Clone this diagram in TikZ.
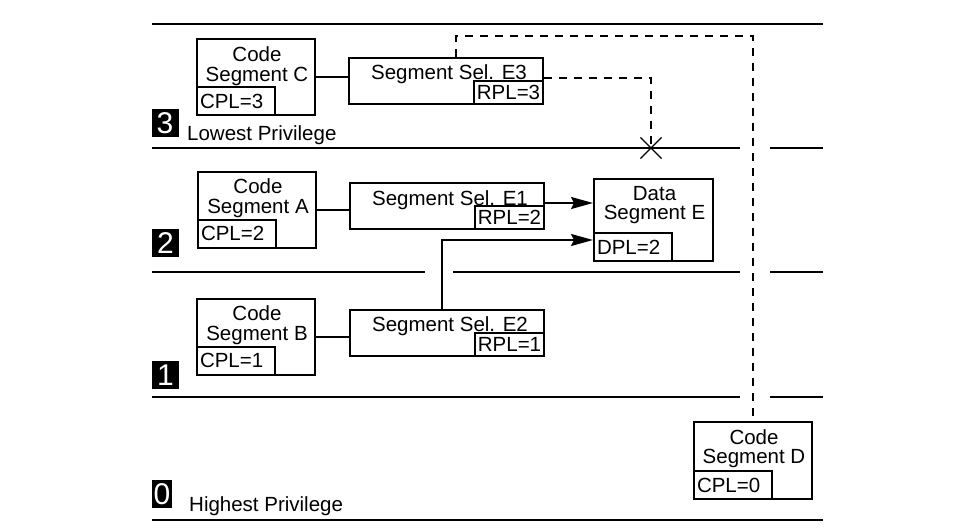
\documentclass[tikz,border=0pt]{standalone}
\usepackage{fontspec}
\setmainfont{Liberation Sans}
\usetikzlibrary{arrows.meta,calc,shapes.misc}

\begin{document}
\begin{tikzpicture}[x=1pt,y=1pt,yscale=-1,xscale=1,
	font=\fontsize{20.5}{19.5}\selectfont,
	seg/.style={draw,line width=2pt,inner sep=0pt},
	codebox/.style={seg,minimum width=118pt,minimum height=76pt},
	selbox/.style={seg,minimum width=194pt,minimum height=46pt},
	plbox/.style={seg,anchor=south west,text width=72pt,inner xsep=3pt,align=left,minimum height=28pt},
	rplbox/.style={seg,anchor=south east,minimum width=69pt,minimum height=23pt},
	lbl/.style={inner sep=0pt,align=center},
	lvl/.style={fill=black,text=white,inner sep=0pt,minimum height=28pt,font=\fontsize{30}{30}\selectfont},
	ring/.style={line width=2.2pt},
	link/.style={line width=2pt},
	arr/.style={link,-{Stealth[length=22pt,width=12pt,inset=3pt]}},
	dashlink/.style={link,dash pattern=on 8pt off 7pt},
	nogo/.style={draw,cross out,line width=1.2pt,minimum size=20pt,inner sep=0pt}]
	%set diagram left start at 0, and has height of 532
	\path[fill=white] (0,0) rectangle (979,532);
	\useasboundingbox (0,0) rectangle (979,532);
	
	%Straight Lines
	\draw[line width=1.2pt] (152,24) -- (823,24) ;
	%Straight Lines
	\draw[ring] (152,148) -- (740,148) (770,148) -- (823,148) ;
	%Straight Lines
	\draw[ring] (152,272) -- (425,272) (453,272) -- (740,272) (770,272) -- (823,272) ;
	%Straight Lines
	\draw[ring] (152,397) -- (740,397) (770,397) -- (823,397) ;
	%Straight Lines
	\draw[ring] (152,520) -- (823,520) ;
	
	% Code Segment C
	\node[codebox] (codeC) at (256,77.5) {};
	\node[lbl,anchor=north] (codeCtxt) at ($(codeC.north)+(1,8)$) {Code\\Segment C};
	\node[plbox] (cplC) at (codeC.south west) {CPL=3};
	% Code Segment A
	\node[codebox] (codeA) at (257,209.5) {};
	\node[lbl,anchor=north] (codeAtxt) at ($(codeA.north)+(1,8)$) {Code\\Segment A};
	\node[plbox] (cplA) at (codeA.south west) {CPL=2};
	% Code Segment B
	\node[codebox] (codeB) at (256,336.5) {};
	\node[lbl,anchor=north] (codeBtxt) at ($(codeB.north)+(1,8)$) {Code\\Segment B};
	\node[plbox] (cplB) at (codeB.south west) {CPL=1};
	% Code Segment D
	\node[codebox,minimum height=77pt] (codeD) at (753,460.5) {};
	\node[lbl,anchor=north] (codeDtxt) at ($(codeD.north)+(1,8)$) {Code\\Segment D};
	\node[plbox] (cplD) at (codeD.south west) {CPL=0};
	% Data Segment E
	\node[codebox,minimum width=119pt,minimum height=82pt] (dataE) at (653.5,220) {};
	\node[lbl,anchor=north] (dataEtxt) at ($(dataE.north)+(1,8)$) {Data\\Segment E};
	\node[plbox] (dplE) at (dataE.south west) {DPL=2};
	
	% Segment Selectors
	\node[selbox] (selE3) at (446,81) {};
	\node[lbl,anchor=base] (selE3txt) at ($(selE3.north)+(3,23)$) {Segment Sel. E3};
	\node[rplbox] (rplE3) at (selE3.south east) {RPL=3};
	\node[selbox] (selE1) at (447,206) {};
	\node[lbl,anchor=base] (selE1txt) at ($(selE1.north)+(3,23)$) {Segment Sel. E1};
	\node[rplbox] (rplE1) at (selE1.south east) {RPL=2};
	\node[selbox] (selE2) at (447,332.5) {};
	\node[lbl,anchor=base] (selE2txt) at ($(selE2.north)+(3,23)$) {Segment Sel. E2};
	\node[rplbox] (rplE2) at (selE2.south east) {RPL=1};
	
	% Text Node
	\node[lvl,minimum width=27pt] (lvl3) at (165,123) {3};
	\node[anchor=base west,inner sep=0pt] (lowest) at (187,140) {Lowest Privilege};
	% Text Node
	\node[lvl,minimum width=27pt] (lvl2) at (165.5,243) {2};
	% Text Node
	\node[lvl,minimum width=27pt] (lvl1) at (165.5,375) {1};
	% Text Node
	\node[lvl,minimum width=20pt] (lvl0) at (162,494) {0};
	\node[anchor=base west,inner sep=0pt] (highest) at (189,511) {Highest Privilege};
	
	%Connectors
	\draw[link] (codeC.east) -- (codeC.east -| selE3.west) ;
	\draw[link] (codeA.east) -- (codeA.east -| selE1.west) ;
	\draw[link] (codeB.east) -- (codeB.east -| selE2.west) ;
	\draw[arr] ($(selE1.east)+(0,-3)$) -- ($(dataE.west)+(0,-17)$) ;
	\draw[arr] ($(selE2.north)+(-5,0)$) |- ($(dataE.west)+(0,20)$) ;
	
	%Dashed Lines
	\coordinate (topbend) at (753,36);
	\draw[dashlink] ($(selE3.north)+(10,0)$) |- (topbend) -- (codeD.north) ;
	\coordinate (deny) at (651,148);
	\draw[dashlink] ($(selE3.east)+(0,-3)$) -| (deny) ;
	\node[nogo] (denyX) at (deny) {};
	
\end{tikzpicture}
\end{document}
